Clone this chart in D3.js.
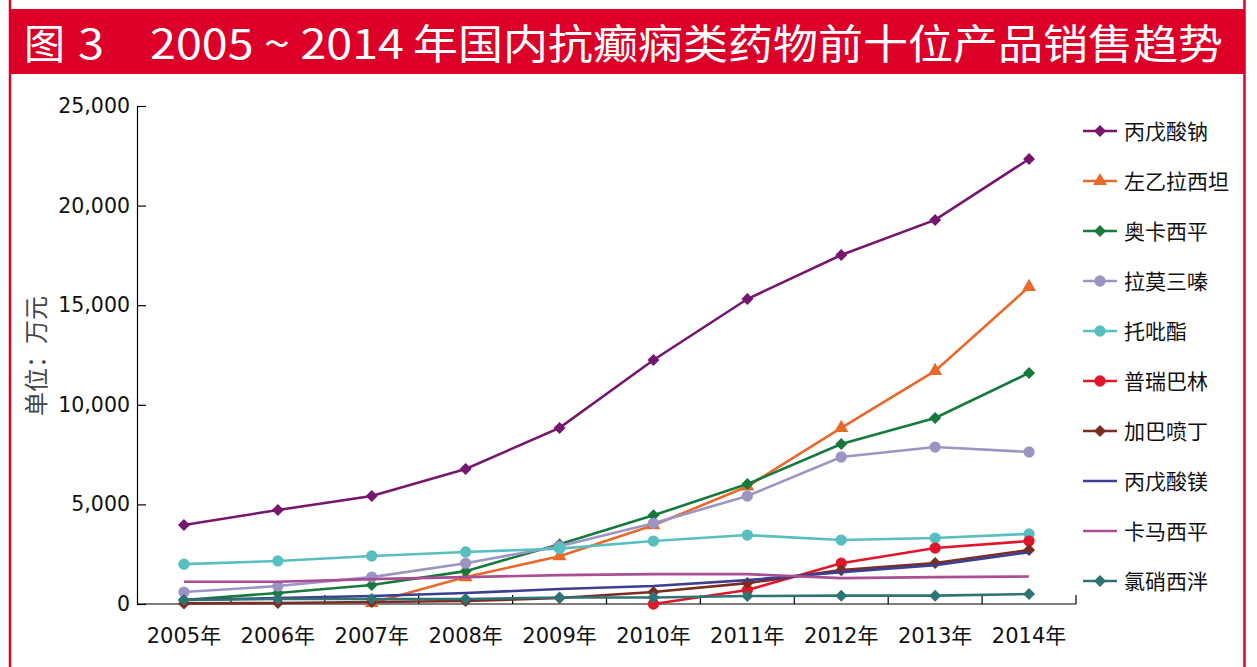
<!DOCTYPE html>
<html>
<head>
<meta charset="utf-8">
<script src="https://cdn.jsdelivr.net/npm/d3@7"></script>
<style>
  body { margin: 0; background: #fff; }
  svg { display: block; }
</style>
</head>
<body>
<svg id="chart"></svg>
<script>
// years on the category axis
const years = ["2005年","2006年","2007年","2008年","2009年","2010年","2011年","2012年","2013年","2014年"];
const yTicks = [0, 5000, 10000, 15000, 20000, 25000];

// series values (万元)
const names = ["丙戊酸钠","左乙拉西坦","奥卡西平","拉莫三嗪","托吡酯","普瑞巴林","加巴喷丁","丙戊酸镁","卡马西平","氯硝西泮"];
const bingwusuanna = [3970, 4720, 5420, 6780, 8840, 12250, 15310, 17520, 19280, 22340];
const zuoyilaxitan = [null, null, 50, 1350, 2400, 3950, 5900, 8840, 11700, 15920];
const aokaxiping   = [200, 550, 950, 1650, 3000, 4450, 6020, 8030, 9340, 11600];
const lamosanqin   = [600, 900, 1350, 2050, 2900, 4050, 5420, 7380, 7880, 7630];
const tuobizhi     = [2000, 2160, 2410, 2610, 2780, 3160, 3460, 3210, 3310, 3520];
const puruibalin   = [null, null, null, null, null, 0, 700, 2050, 2810, 3160];
const jiabapending = [30, 50, 100, 150, 300, 600, 1050, 1700, 2060, 2710];
const bingwusuanmei= [200, 300, 400, 550, 750, 900, 1200, 1600, 1950, 2600];
const kamaxiping   = [1120, 1120, 1250, 1350, 1450, 1500, 1500, 1300, 1350, 1380];
const lvxiaoxiyang = [200, 250, 250, 250, 330, 330, 400, 420, 420, 500];

const seriesValues = [bingwusuanna, zuoyilaxitan, aokaxiping, lamosanqin, tuobizhi,
                      puruibalin, jiabapending, bingwusuanmei, kamaxiping, lvxiaoxiyang];
const colors = ["#76166f","#e8692a","#177a3c","#9b95c6","#57bfc0",
                "#e0162b","#7d2c24","#3a3f92","#a84d96","#2e7474"];
const markers = ["diamond","triangle","diamond","circle","circle",
                 "circle","diamond","none","none","diamond"];

const width = 1257, height = 667;
const svg = d3.select("#chart").attr("width", width).attr("height", height);

// frame and title bar
const red = "#dc0029";
svg.append("rect").attr("x", 10).attr("y", 9).attr("width", 1235).attr("height", 65).attr("fill", red);
svg.append("line").attr("x1", 10).attr("x2", 10).attr("y1", 0).attr("y2", height)
   .attr("stroke", red).attr("stroke-width", 2.5);
svg.append("line").attr("x1", 1244.5).attr("x2", 1244.5).attr("y1", 0).attr("y2", height)
   .attr("stroke", red).attr("stroke-width", 2.5);

const title = svg.append("text").attr("y", 59).attr("fill", "#fff")
   .style("font-family", "'Noto Sans CJK SC', sans-serif").style("font-size", "41px");
title.append("tspan").attr("x", 24).text("图");
title.append("tspan").attr("x", 78).attr("textLength", 26).attr("lengthAdjust", "spacingAndGlyphs").text("3");
title.append("tspan").attr("x", 150).attr("textLength", 254).attr("lengthAdjust", "spacingAndGlyphs").text("2005 ~ 2014");
title.append("tspan").attr("x", 413).attr("textLength", 810).attr("lengthAdjust", "spacingAndGlyphs")
   .text("年国内抗癫痫类药物前十位产品销售趋势");

// scales
const x = d3.scaleBand().domain(years).range([137, 1076]).padding(0);
const cx = d => x(d) + x.bandwidth() / 2;
const y = d3.scaleLinear().domain([0, 25000]).range([604, 106]);

const font = "'DejaVu Sans', 'Noto Sans CJK SC', sans-serif";

// y axis
const yAxis = svg.append("g").attr("transform", "translate(137,0)")
   .call(d3.axisLeft(y).tickValues(yTicks).tickSizeInner(-9).tickSizeOuter(0).tickPadding(7)
          .tickFormat(d3.format(",")));
yAxis.selectAll("text").style("font-family", font).style("font-size", "20.5px").attr("fill", "#111");
yAxis.selectAll("line, path").attr("stroke", "#000").attr("stroke-width", 1.2);

// x axis: ticks between categories
const xAxis = svg.append("g").attr("transform", "translate(0,604)");
xAxis.append("line").attr("x1", 137).attr("x2", 1076).attr("stroke", "#000").attr("stroke-width", 1.2);
xAxis.selectAll("line.tick").data(years).enter().append("line").attr("class", "tick")
   .attr("x1", d => x(d) + x.bandwidth()).attr("x2", d => x(d) + x.bandwidth())
   .attr("y1", 0).attr("y2", -9).attr("stroke", "#000").attr("stroke-width", 1.2);
xAxis.selectAll("text").data(years).enter().append("text")
   .attr("x", cx).attr("y", 39).attr("text-anchor", "middle")
   .style("font-family", font).style("font-size", "21px").attr("fill", "#111")
   .text(d => d);

// y axis title
svg.append("text").attr("transform", "translate(45,356) rotate(-90)")
   .attr("text-anchor", "middle").attr("fill", "#444")
   .style("font-family", "'Noto Sans CJK SC', sans-serif").style("font-size", "24px")
   .text("单位：万元");

// markers: wide diamond like the Excel one
const wideDiamond = {
  draw(ctx, size) {
    const r = Math.sqrt(size / 2);
    ctx.moveTo(0, -r); ctx.lineTo(r, 0); ctx.lineTo(0, r); ctx.lineTo(-r, 0); ctx.closePath();
  }
};
const symbolFor = m => m === "diamond" ? d3.symbol().type(wideDiamond).size(72)
                  : m === "triangle" ? d3.symbol().type(d3.symbolTriangle).size(85)
                  : d3.symbol().type(d3.symbolCircle).size(100);

const line = d3.line().defined(d => d.v !== null).x(d => cx(d.year)).y(d => y(d.v));

const plot = svg.append("g");
seriesValues.forEach((vals, i) => {
  const pts = years.map((yr, j) => ({ year: yr, v: vals[j] }));
  const g = plot.append("g");
  g.append("path").datum(pts).attr("d", line).attr("fill", "none")
   .attr("stroke", colors[i]).attr("stroke-width", 2.6);
  if (markers[i] !== "none") {
    g.selectAll("path.m").data(pts.filter(d => d.v !== null)).enter().append("path").attr("class", "m")
     .attr("d", symbolFor(markers[i]))
     .attr("transform", d => `translate(${cx(d.year)},${y(d.v)})`)
     .attr("fill", colors[i]);
  }
});

// legend
const legend = svg.append("g");
names.forEach((n, i) => {
  const ly = 131 + i * 50;
  const g = legend.append("g").attr("transform", `translate(0,${ly})`);
  g.append("line").attr("x1", 1083).attr("x2", 1117).attr("stroke", colors[i]).attr("stroke-width", 2.6);
  if (markers[i] !== "none") {
    g.append("path").attr("d", symbolFor(markers[i])).attr("transform", "translate(1100,0)").attr("fill", colors[i]);
  }
  g.append("text").attr("x", 1124).attr("y", 7.5).attr("fill", "#111")
   .style("font-family", "'Noto Sans CJK SC', sans-serif").style("font-size", "21px").text(n);
});
</script>
</body>
</html>
